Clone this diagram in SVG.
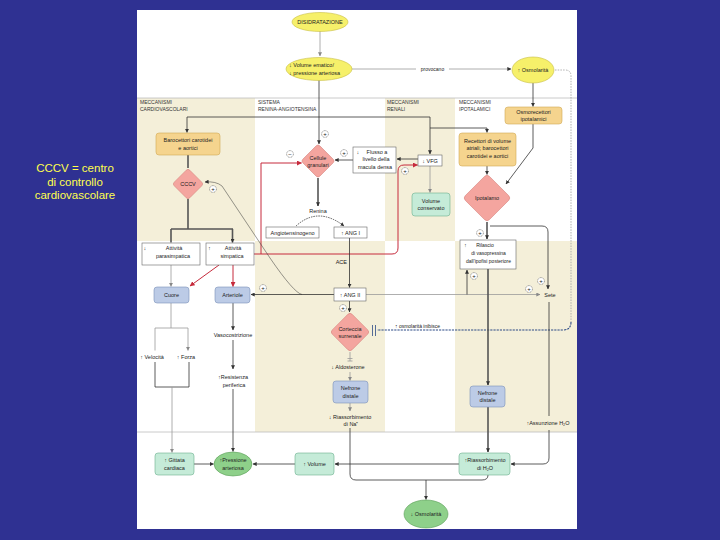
<svg xmlns="http://www.w3.org/2000/svg" width="720" height="540" viewBox="0 0 720 540">
<defs>
<style>
text{font-family:"Liberation Sans",Arial,sans-serif;fill:#222;font-size:5.5px}
.t{text-anchor:middle}
.hdr{font-size:5px;fill:#333}
.sm{font-size:5px}
.ln{fill:none;stroke:#333;stroke-width:0.8}
.lt{fill:none;stroke:#333;stroke-width:0.5}
.lg{fill:none;stroke:#9a9a9a;stroke-width:0.8}
.th{fill:none;stroke:#555;stroke-width:1.6}
.red{fill:none;stroke:#c62b3c;stroke-width:1}
.yel{fill:#f6f06a;stroke:#c8bd45;stroke-width:0.6}
.org{fill:#f5d48e;stroke:#d1a955;stroke-width:0.6}
.pnk{fill:#f4a59f;stroke:#d8857f;stroke-width:0.6}
.blu{fill:#bccbe6;stroke:#7b90b8;stroke-width:0.6}
.tea{fill:#c5ebd8;stroke:#6cb08f;stroke-width:0.6}
.grn{fill:#8ed08a;stroke:#5a9e57;stroke-width:0.6}
.wht{fill:#fff;stroke:#666;stroke-width:0.6}
.beige{fill:#f4efd9}
.cap{font-size:11.5px;fill:#ffff4d;text-anchor:middle}
</style>
<marker id="ad" viewBox="0 0 6 6" refX="5.5" refY="3" markerWidth="4" markerHeight="4" markerUnits="userSpaceOnUse" orient="auto"><path d="M0,0L6,3L0,6z" fill="#333"/></marker>
<marker id="ag" viewBox="0 0 6 6" refX="5.5" refY="3" markerWidth="4" markerHeight="4" markerUnits="userSpaceOnUse" orient="auto"><path d="M0,0L6,3L0,6z" fill="#888"/></marker>
<marker id="ar" viewBox="0 0 6 6" refX="5.5" refY="3" markerWidth="5" markerHeight="5" markerUnits="userSpaceOnUse" orient="auto"><path d="M0,0L6,3L0,6z" fill="#c62b3c"/></marker>
<g id="plus"><circle r="3.4" fill="#fff" stroke="#333" stroke-width="0.5" stroke-dasharray="1 0.6"/><text y="2" class="t" style="font-size:6px">+</text></g>
<g id="minus"><circle r="3.4" fill="#fff" stroke="#333" stroke-width="0.5" stroke-dasharray="1 0.6"/><text y="2" class="t" style="font-size:6px">−</text></g>
</defs>

<rect x="0" y="0" width="720" height="540" fill="#2f3192"/>
<rect x="137" y="10" width="440" height="519" fill="#fff"/>
<!-- bands -->
<rect class="beige" x="137" y="98" width="118" height="143"/>
<rect class="beige" x="385" y="98" width="70" height="143"/>
<rect class="beige" x="255" y="241" width="130" height="191"/>
<rect class="beige" x="455" y="241" width="122" height="191"/>
<line x1="137" y1="98" x2="577" y2="98" stroke="#bdbdbd" stroke-width="0.8"/>
<line x1="137" y1="432" x2="577" y2="432" stroke="#bdbdbd" stroke-width="0.8"/>

<text class="cap" x="75" y="172">CCCV = centro</text>
<text class="cap" x="75" y="185.5">di controllo</text>
<text class="cap" x="75" y="199">cardiovascolare</text>

<g id="headers">
<text class="hdr" x="140" y="103.5">MECCANISMI</text><text class="hdr" x="140" y="110.5">CARDIOVASCOLARI</text>
<text class="hdr" x="258" y="103.5">SISTEMA</text><text class="hdr" x="258" y="110.5">RENINA-ANGIOTENSINA</text>
<text class="hdr" x="387" y="103.5">MECCANISMI</text><text class="hdr" x="387" y="110.5">RENALI</text>
<text class="hdr" x="459" y="103.5">MECCANISMI</text><text class="hdr" x="459" y="110.5">IPOTALAMICI</text>
</g>

<g id="connectors">
<path class="lg" d="M320 31V56" marker-end="url(#ag)"/>
<path class="lg" d="M352 69H416M449 69H511" marker-end="url(#ad)"/>
<text class="sm t" x="432.5" y="71">provocano</text>
<path d="M555 70H565Q571 70 571 76V322" fill="none" stroke="#a8a8a8" stroke-width="0.9" stroke-dasharray="1.5 1.2"/>
<path d="M571 322Q571 330 563 330H377" fill="none" stroke="#2c4a86" stroke-width="1.1" stroke-dasharray="2.2 1"/>
<path d="M372.5 325V336M375.5 325V336" stroke="#2c4a86" stroke-width="0.8"/>
<text class="sm" x="395" y="328">↑ osmolarità inibisce</text>

<path class="ln" d="M319 80V144" marker-end="url(#ad)"/>
<path class="ln" d="M187 117H430M430 117V154" marker-end="url(#ad)"/>
<path class="ln" d="M187 117V132.5" marker-end="url(#ad)"/>
<path class="ln" d="M430 128H487V132.5" marker-end="url(#ad)"/>
<path class="ln" d="M533 83V106.5" marker-end="url(#ad)"/>
<path class="ln" d="M533 124V148L506 184" marker-end="url(#ad)"/>
<path class="ln" d="M487 166V174.5" marker-end="url(#ad)"/>
<path class="th" d="M487 222V239" marker-end="url(#ad)"/>
<path class="ln" d="M490 226H542Q548 226 548 232V289" marker-end="url(#ad)"/>
<path class="lg" d="M366 294.5H540" marker-end="url(#ag)"/>
<path class="ln" d="M467 294.5V270" marker-end="url(#ad)"/>
<path class="th" d="M488 269V385" marker-end="url(#ad)"/>
<path class="th" d="M488 407V452" marker-end="url(#ad)"/>
<path class="ln" d="M549 302V416M549 430V458Q549 464 543 464H511" marker-end="url(#ad)"/>
<path class="ln" d="M459 464H335" marker-end="url(#ad)"/>
<path class="ln" d="M295 464H253" marker-end="url(#ad)"/>
<path class="ln" d="M194 464H213.5" marker-end="url(#ad)"/>
<path class="ln" d="M350 428V474Q350 480 356 480H482Q488 480 488 475"/>
<path class="ln" d="M426 480V499.5" marker-end="url(#ad)"/>

<path class="th" d="M188 155V168"/>
<path class="th" d="M188 199V229M171 229H233"/>
<path class="th" d="M171 229V242.5M232.5 229V242.5" marker-end="url(#ad)"/>
<path class="lg" d="M171 265V286.5" marker-end="url(#ag)"/>
<path class="red" d="M219 265L190 286" marker-end="url(#ar)"/>
<path class="red" d="M233 265V286.5" marker-end="url(#ar)"/>
<path class="red" d="M254 254H392Q398 254 398 248V171Q398 165 404 165H417.5" marker-end="url(#ar)"/>
<path class="red" d="M261 254V163H301.5" marker-end="url(#ar)"/>
<path class="ln" d="M334 294.5H251" marker-end="url(#ad)"/>
<path class="lt" d="M302 294.5Q294 293 270 258L222 186Q216 181 205 182" marker-end="url(#ad)"/>
<path class="lg" d="M171 303V328M155 328H188"/>
<path class="lg" d="M155 328V350.5M188 328V350.5" marker-end="url(#ag)"/>
<path class="ln" d="M155 362V387H189V362"/>
<path class="lg" d="M172 387V452.5" marker-end="url(#ag)"/>
<path class="ln" d="M233 303V330" marker-end="url(#ad)"/>
<path class="ln" d="M233 340V369" marker-end="url(#ad)"/>
<path class="ln" d="M233 389V451.5" marker-end="url(#ad)"/>

<path class="th" d="M318 178V206" marker-end="url(#ad)"/>
<path class="ln" d="M296 226Q318 206 344 226" stroke-dasharray="1.5 1" marker-end="url(#ad)"/>
<path class="ln" d="M349.5 238V287.5" marker-end="url(#ad)"/>
<path class="ln" d="M349.5 301V312" marker-end="url(#ad)"/>
<path class="lg" d="M350 352V361M347.5 358.5H352.5M347.5 361H352.5"/>
<path class="lg" d="M350 372V380.5" marker-end="url(#ag)"/>
<path class="lg" d="M350 403V411" marker-end="url(#ag)"/>
<path class="ln" d="M353 160H335" marker-end="url(#ad)"/>
<path class="ln" d="M418 159H397" marker-end="url(#ad)"/>
<path class="lg" d="M430 166V192.5" marker-end="url(#ag)"/>

<use href="#plus" x="325" y="134"/>
<use href="#minus" x="290" y="154"/>
<use href="#plus" x="344" y="153"/>
<use href="#plus" x="405" y="171"/>
<use href="#plus" x="213" y="189"/>
<use href="#plus" x="263" y="288"/>
<use href="#plus" x="343" y="308"/>
<use href="#plus" x="480" y="233"/>
<use href="#plus" x="474" y="276"/>
<use href="#plus" x="541" y="281"/>
<use href="#plus" x="529" y="289"/>
</g>

<g id="disidratazione"><ellipse class="yel" cx="320" cy="22" rx="28" ry="9.5"/><text class="t" x="320" y="24">DISIDRATAZIONE</text></g>
<g id="volume-ematico"><ellipse class="yel" cx="319" cy="69" rx="33" ry="11.5"/><text x="289" y="66.5">↓ Volume ematico/</text><text x="289" y="74.5">↓ pressione arteriosa</text></g>
<g id="osmolarita-su"><ellipse class="yel" cx="533" cy="70" rx="21" ry="13"/><text class="t" x="533" y="72">↑ Osmolarità</text></g>
<g id="osmorecettori"><rect class="org" x="505" y="107" width="57" height="17" rx="3"/><text class="t" x="533.5" y="114">Osmorecettori</text><text class="t" x="533.5" y="121">ipotalamici</text></g>
<g id="barocettori"><rect class="org" x="156" y="133" width="64" height="22" rx="3"/><text class="t" x="188" y="142">Barocettori carotidei</text><text class="t" x="188" y="149.5">e aortici</text></g>
<g id="cccv"><rect class="pnk" x="-11" y="-11" width="22" height="22" rx="2.5" transform="translate(188 184) rotate(45)"/><text class="t" x="188" y="186">CCCV</text></g>
<g id="parasimpatica"><rect class="wht" x="142" y="243" width="58" height="22"/><text x="143.5" y="250">↓</text><text class="t" x="174" y="250">Attività</text><text class="t" x="173" y="258">parasimpatica</text></g>
<g id="simpatica"><rect class="wht" x="206" y="243" width="48" height="22"/><text x="208" y="250">↑</text><text class="t" x="233" y="250">Attività</text><text class="t" x="232" y="258">simpatica</text></g>
<g id="cuore"><rect class="blu" x="154" y="287" width="35" height="16" rx="3"/><text class="t" x="171.5" y="297">Cuore</text></g>
<g id="arteriole"><rect class="blu" x="215" y="287" width="35" height="16" rx="3"/><text class="t" x="232.5" y="297">Arteriole</text></g>
<g id="velocita"><text class="t" x="152" y="359">↑ Velocità</text></g>
<g id="forza"><text class="t" x="186" y="359">↑ Forza</text></g>
<g id="vasocostrizione"><text class="t" x="233" y="337">Vasocostrizione</text></g>
<g id="resistenza"><text class="t" x="233" y="379">↑Resistenza</text><text class="t" x="234" y="386.5">periferica</text></g>
<g id="gittata"><rect class="tea" x="155" y="453" width="39" height="22" rx="3"/><text class="t" x="174.5" y="462">↑ Gittata</text><text class="t" x="174.5" y="470">cardiaca</text></g>
<g id="pressione"><ellipse class="grn" cx="233" cy="464" rx="19" ry="12"/><text class="t" x="233" y="462">↑Pressione</text><text class="t" x="233" y="470">arteriosa</text></g>
<g id="volume"><rect class="tea" x="295" y="453" width="39" height="22" rx="3"/><text class="t" x="314.5" y="466">↑ Volume</text></g>
<g id="cellule-granulari"><rect class="pnk" x="-12" y="-12" width="24" height="24" rx="2.5" transform="translate(318 161) rotate(45)"/><text class="t" x="318" y="159.5">Cellule</text><text class="t" x="318" y="166.5">granulari</text></g>
<g id="renina"><text class="t" x="318" y="213">Renina</text></g>
<g id="angiotensinogeno"><rect class="wht" x="266" y="227" width="53" height="11"/><text class="t" x="292.5" y="234.5">Angiotensinogeno</text></g>
<g id="ang1"><rect class="wht" x="334" y="227" width="33" height="11"/><text class="t" x="350.5" y="234.5">↑ ANG I</text></g>
<g id="ace"><text x="347" y="264" style="text-anchor:end">ACE</text></g>
<g id="ang2"><rect class="wht" x="334" y="288" width="32" height="13"/><text class="t" x="350" y="296.5">↑ ANG II</text></g>
<g id="corteccia"><rect class="pnk" x="-14" y="-14" width="28" height="28" rx="3" transform="translate(350 332) rotate(45)"/><text class="t" x="350" y="330.5">Corteccia</text><text class="t" x="350" y="337.5">surrenale</text></g>
<g id="aldosterone"><text class="t" x="348" y="369">↓ Aldosterone</text></g>
<g id="nefrone-distale-1"><rect class="blu" x="333" y="381" width="35" height="22" rx="3"/><text class="t" x="350.5" y="390">Nefrone</text><text class="t" x="350.5" y="397.5">distale</text></g>
<g id="riassorbimento-na"><text class="t" x="350" y="419">↓ Riassorbimento</text><text class="t" x="351" y="426">di Na⁺</text></g>
<g id="flusso"><rect class="wht" x="353" y="147" width="43" height="26"/><text x="356.5" y="153.5">↓</text><text class="t" x="377" y="153.5">Flusso a</text><text class="t" x="376" y="161">livello della</text><text class="t" x="375" y="168.5">macula densa</text></g>
<g id="vfg"><rect class="wht" x="418" y="155" width="24" height="11"/><text class="t" x="430" y="162.5">↓ VFG</text></g>
<g id="volume-conservato"><rect class="tea" x="412" y="193" width="38" height="23" rx="3"/><text class="t" x="431" y="202.5">Volume</text><text class="t" x="431" y="210">conservato</text></g>
<g id="recettori"><rect class="org" x="459" y="133" width="57" height="33" rx="3"/><text class="t" x="487.5" y="142.5">Recettori di volume</text><text class="t" x="487.5" y="150">atriali; barocettori</text><text class="t" x="487.5" y="157.5">carotidei e aortici</text></g>
<g id="ipotalamo"><rect class="pnk" x="-17" y="-17" width="34" height="34" rx="3.5" transform="translate(487 198) rotate(45)"/><text class="t" x="487" y="200">Ipotalamo</text></g>
<g id="rilascio"><rect class="wht" x="460" y="240" width="56" height="29"/><text x="464" y="247">↑</text><text class="t sm" x="485" y="247">Rilascio</text><text class="t sm" x="488.5" y="255">di vasopressina</text><text class="t sm" x="488.5" y="263">dall'ipofisi posteriore</text></g>
<g id="sete"><text class="t" x="550" y="297">Sete</text></g>
<g id="assunzione"><text class="t" x="548" y="425">↑Assunzione H₂O</text></g>
<g id="nefrone-distale-2"><rect class="blu" x="470" y="386" width="35" height="21" rx="3"/><text class="t" x="487.5" y="394.5">Nefrone</text><text class="t" x="487.5" y="402">distale</text></g>
<g id="riassorbimento-h2o"><rect class="tea" x="459" y="453" width="51" height="22" rx="3"/><text class="t" x="485" y="462">↑Riassorbimento</text><text class="t" x="485" y="470">di H₂O</text></g>
<g id="osmolarita-giu"><ellipse class="grn" cx="426" cy="514" rx="22" ry="14"/><text class="t" x="426" y="516">↓ Osmolarità</text></g>
</svg>
